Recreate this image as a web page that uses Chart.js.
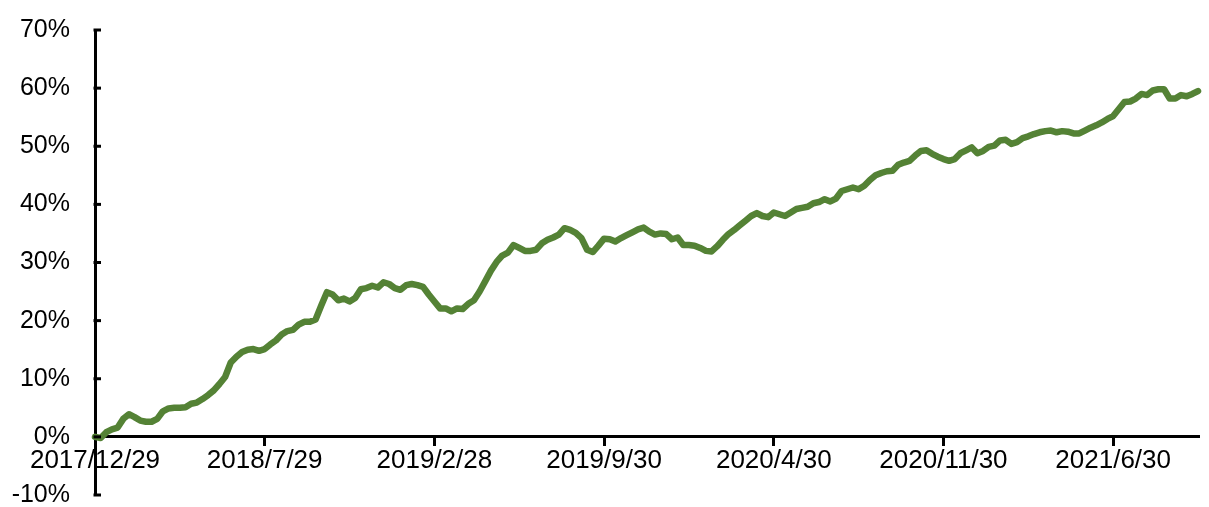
<!DOCTYPE html>
<html>
<head>
<meta charset="utf-8">
<script src="https://cdn.jsdelivr.net/npm/chart.js@4.4.1/dist/chart.umd.min.js"></script>
<style>
  html, body { margin: 0; padding: 0; background: #fff; }
  #wrap { width: 1209px; height: 507px; }
</style>
</head>
<body>
<div id="wrap"><canvas id="chart"></canvas></div>
<script>
// weekly cumulative return (%), week 0 = 2017/12/29
var tickLabels = ['2017/12/29', '2018/7/29', '2019/2/28', '2019/9/30', '2020/4/30', '2020/11/30', '2021/6/30'];
var tickStep = 30;   // weeks between labels
var lastWeek = 195;
var yTicks = [-10, 0, 10, 20, 30, 40, 50, 60, 70];

var cumReturn = [
    0, -0.2, 0.8, 1.3, 1.6, 3.1, 3.9, 3.4, 2.8, 2.6,
    2.6, 3.1, 4.4, 4.9, 5.0, 5.0, 5.1, 5.7, 5.9, 6.5,
    7.2, 8.0, 9.1, 10.3, 12.8, 13.8, 14.6, 15.0, 15.1, 14.8,
    15.1, 15.9, 16.6, 17.6, 18.2, 18.4, 19.3, 19.8, 19.8, 20.2,
    22.6, 24.9, 24.5, 23.5, 23.8, 23.3, 23.9, 25.4, 25.6, 26.0,
    25.7, 26.6, 26.3, 25.6, 25.3, 26.1, 26.3, 26.1, 25.8, 24.5,
    23.3, 22.1, 22.1, 21.6, 22.1, 22.0, 22.9, 23.5, 25.0, 26.8,
    28.6, 30.1, 31.2, 31.7, 33.0, 32.5, 32.0, 32.0, 32.2, 33.3,
    33.9, 34.3, 34.8, 35.9, 35.6, 35.1, 34.2, 32.2, 31.8, 32.9,
    34.1, 34.0, 33.6, 34.2, 34.7, 35.2, 35.7, 36.0, 35.3, 34.8,
    35.0, 34.9, 34.0, 34.3, 33.0, 33.0, 32.9, 32.5, 32.0, 31.9,
    32.8, 33.9, 34.9, 35.6, 36.4, 37.2, 38.0, 38.5, 38.0, 37.8,
    38.6, 38.3, 38.0, 38.6, 39.2, 39.4, 39.6, 40.2, 40.4, 40.9,
    40.5, 41.0, 42.3, 42.6, 42.9, 42.6, 43.2, 44.2, 45.0, 45.4,
    45.7, 45.8, 46.8, 47.2, 47.5, 48.4, 49.2, 49.3, 48.7, 48.2,
    47.8, 47.5, 47.8, 48.8, 49.3, 49.8, 48.8, 49.2, 49.9, 50.1,
    51.0, 51.1, 50.4, 50.7, 51.4, 51.7, 52.1, 52.4, 52.6, 52.7,
    52.4, 52.6, 52.5, 52.2, 52.2, 52.7, 53.2, 53.6, 54.1, 54.7,
    55.2, 56.4, 57.6, 57.7, 58.2, 59.0, 58.8, 59.6, 59.8, 59.8,
    58.2, 58.2, 58.8, 58.6, 59.0, 59.5
];

var points = cumReturn.map(function(v, i) { return { x: i, y: v }; });

// short tick marks on the inner side of the y axis
var innerYTicks = {
    id: 'innerYTicks',
    afterDraw: function(chart) {
        var ctx = chart.ctx;
        var ys = chart.scales.y;
        var left = chart.chartArea.left;
        ctx.save();
        ctx.strokeStyle = '#000';
        ctx.lineWidth = 3;
        yTicks.forEach(function(v) {
            var py = ys.getPixelForValue(v);
            ctx.beginPath();
            ctx.moveTo(left - 1.5, py);
            ctx.lineTo(left + 6, py);
            ctx.stroke();
        });
        ctx.restore();
    }
};

Chart.defaults.font.family = '"Liberation Sans", Arial, sans-serif';
Chart.defaults.font.size = 25;
Chart.defaults.color = '#000';

new Chart(document.getElementById('chart'), {
    type: 'line',
    data: {
        datasets: [{
            data: points,
            borderColor: '#548235',
            borderWidth: 6.5,
            pointRadius: 0,
            tension: 0,
            borderJoinStyle: 'round',
            borderCapStyle: 'round',
            clip: false
        }]
    },
    options: {
        responsive: true,
        maintainAspectRatio: false,
        animation: false,
        layout: { padding: { top: 30, bottom: 12, left: 0, right: 11 } },
        plugins: { legend: { display: false }, tooltip: { enabled: false } },
        scales: {
            x: {
                type: 'linear',
                position: { y: 0 },
                min: 0,
                max: lastWeek,
                afterFit: function(scale) { scale.height = 0; },
                border: { display: true, color: '#000', width: 3 },
                grid: { drawOnChartArea: false, drawTicks: true, tickLength: 8, color: '#000', lineWidth: 3 },
                ticks: {
                    stepSize: tickStep,
                    includeBounds: false,
                    autoSkip: false,
                    maxRotation: 0,
                    padding: 0,
                    font: { size: 26 },
                    callback: function(value) {
                        var k = value / tickStep;
                        return tickLabels[k] !== undefined ? tickLabels[k] : '';
                    }
                }
            },
            y: {
                min: -10,
                max: 70,
                border: { display: true, color: '#000', width: 3 },
                grid: { display: false, drawTicks: false },
                afterFit: function(scale) {
                    scale.width = 95;
                    scale.paddingTop = 0;
                    scale.paddingBottom = 0;
                },
                ticks: {
                    stepSize: 10,
                    padding: 25,
                    callback: function(value) { return value + '%'; }
                }
            }
        }
    },
    plugins: [innerYTicks]
});
</script>
</body>
</html>
